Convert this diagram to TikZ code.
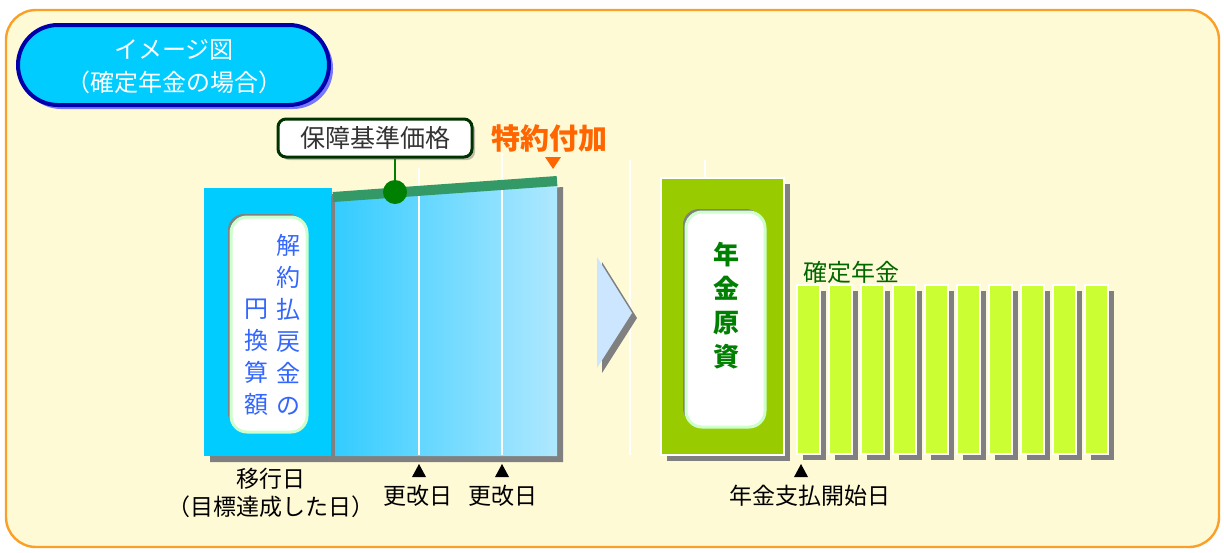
\documentclass[tikz,border=0pt]{standalone}
\usepackage{fontspec}
\setmainfont{Noto Sans CJK JP}
\usetikzlibrary{shadows}

\begin{document}
\begin{tikzpicture}[x=0.5pt,y=-0.5pt,
    lbl/.style={font=\fontsize{11.5}{14}\selectfont, text=black, inner sep=0pt},
    bar/.style={fill=bargreen, draw=white, line width=1pt},
    barshadow/.style={fill=shadowgray}]

    % Define colors
    \definecolor{cream}{RGB}{255,250,214}
    \definecolor{frameorange}{RGB}{250,160,40}
    \definecolor{skyblue}{RGB}{0,204,255}
    \definecolor{pillblue}{RGB}{0,0,170}
    \definecolor{glowblue}{RGB}{120,120,255}
    \definecolor{gradleft}{RGB}{51,204,255}
    \definecolor{gradright}{RGB}{175,232,255}
    \definecolor{seagreen}{RGB}{51,153,102}
    \definecolor{dotgreen}{RGB}{0,128,0}
    \definecolor{darkgreen}{RGB}{0,51,0}
    \definecolor{ridertext}{RGB}{255,102,0}
    \definecolor{textblue}{RGB}{51,102,255}
    \definecolor{fundgreen}{RGB}{153,204,0}
    \definecolor{bargreen}{RGB}{204,255,51}
    \definecolor{shadowgray}{RGB}{128,128,128}
    \definecolor{palegreen}{RGB}{204,255,204}
    \definecolor{chevronblue}{RGB}{204,230,255}

    \useasboundingbox (0,0) rectangle (1224,552);
    \filldraw[fill=cream, draw=frameorange, line width=1.2pt, rounded corners=15pt] (6,10) rectangle (1219,547);

    % Title
    \fill[glowblue, rounded corners=20pt] (21,28) rectangle (333,109);
    \filldraw[fill=skyblue, draw=pillblue, line width=2pt, rounded corners=20pt] (18,25) rectangle (329,105);
    \node[font=\fontsize{12}{16.5}\selectfont, text=white, align=center] (title) at (174,67) {イメージ図\\（確定年金の場合）};

    %-------------
    % Left block
    \fill[shadowgray] (210,194) -- (338,194) -- (338,203) -- (563,187) -- (563,462) -- (210,462) -- cycle;
    \fill[skyblue] (204,188) rectangle (332,456);
    \shade[left color=gradleft, right color=gradright] (335,197) -- (557,181) -- (557,456) -- (335,456) -- cycle;
    \draw[shadowgray, line width=2pt] (333,196) -- (333,457);

    \draw[white, line width=1pt] (419,168) -- (419,455);
    \draw[white, line width=1pt] (502,153) -- (502,455);
    \draw[white, line width=1pt] (630,160) -- (630,455);
    \draw[white, line width=1pt] (705,160) -- (705,178);

    \draw[seagreen, line width=5pt] (333,197) -- (557,181);

    % Surrender value box
    \fill[shadowgray, rounded corners=8pt] (228,214) rectangle (305,429);
    \filldraw[fill=white, draw=palegreen, line width=1.5pt, rounded corners=8pt] (231,217) rectangle (307,432);
    \node[font=\fontsize{12}{16}\selectfont, text=textblue, align=center, inner sep=0pt] (surrender) at (288,325) {解\\約\\払\\戻\\金\\の};
    \node[font=\fontsize{12}{16}\selectfont, text=textblue, align=center, inner sep=0pt] (surrenderb) at (256,357) {円\\換\\算\\額};

    % Guaranteed price
    \node[fill=white, draw=darkgreen, line width=1.5pt, rounded corners=4pt, minimum width=97pt, minimum height=19pt,
          font=\fontsize{12.5}{14}\selectfont, text=black!80, drop shadow={shadow xshift=1.5pt, shadow yshift=-1.5pt, fill=shadowgray}] (basis) at (375,138) {保障基準価格};
    \node[circle, fill=dotgreen, minimum size=12pt, inner sep=0pt] (dot) at (395,192) {};
    \draw[dotgreen, line width=1pt] (dot) -- (basis.south -| dot);

    \node[font=\bfseries\fontsize{14.5}{17}\selectfont, text=ridertext] (rider) at (549,138) {特約付加};
    \fill[ridertext] (545,157) -- (561,157) -- (553,169) -- cycle;

    % Dates
    \node[lbl, align=center] (moveday) at (271,493) {移行日\\（目標達成した日）};
    \fill (412,477) -- (426,477) -- (419,464) -- cycle;
    \fill (495,477) -- (509,477) -- (502,464) -- cycle;
    \node[lbl] (renew1) at (418,496) {更改日};
    \node[lbl] (renew2) at (503,496) {更改日};

    %-------------
    % Arrow
    \fill[shadowgray] (602,262) -- (637,318) -- (602,373) -- cycle;
    \fill[chevronblue] (597,257) -- (632,313) -- (597,368) -- cycle;

    %-------------
    % Pension fund
    \fill[shadowgray] (667,184) rectangle (790,461);
    \filldraw[fill=fundgreen, draw=white, line width=1pt] (661,178) rectangle (784,455);
    \fill[shadowgray, rounded corners=8pt] (683,209) rectangle (762,424);
    \filldraw[fill=white, draw=palegreen, line width=1.5pt, rounded corners=8pt] (686,212) rectangle (765,427);
    \node[font=\bfseries\fontsize{13}{17}\selectfont, text=dotgreen, align=center, inner sep=0pt] (fund) at (726,306) {年\\金\\原\\資};

    % Annuity bars
    \foreach \i in {0,...,9} {
        \fill[barshadow] (803+32*\i,291) rectangle (826+32*\i,460);
        \filldraw[bar] (797+32*\i,285) rectangle (820+32*\i,454);
    }
    \node[font=\fontsize{12}{14}\selectfont, text=dotgreen!80!black, anchor=west, inner sep=0pt] (annuity) at (803,272) {確定年金};

    \fill (794,477) -- (808,477) -- (801,464) -- cycle;
    \node[lbl] (paystart) at (810,496) {年金支払開始日};

\end{tikzpicture}
\end{document}
